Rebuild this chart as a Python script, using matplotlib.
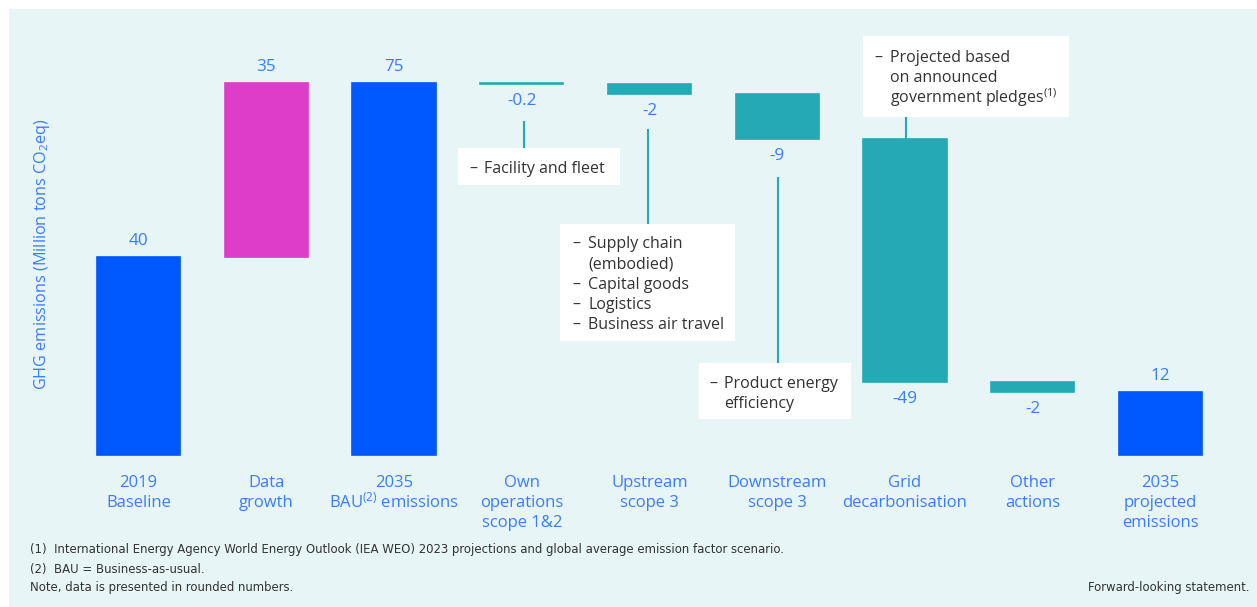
import matplotlib
matplotlib.use("Agg")
import matplotlib.pyplot as plt
from matplotlib.patches import Rectangle

plt.rcParams['font.family'] = ['Open Sans', 'DejaVu Sans']
plt.rcParams['mathtext.default'] = 'regular'

# chart data
categories = ["2019\nBaseline", "Data\ngrowth", "2035\nBAU$^{(2)}$ emissions",
              "Own\noperations\nscope 1&2", "Upstream\nscope 3", "Downstream\nscope 3",
              "Grid\ndecarbonisation", "Other\nactions", "2035\nprojected\nemissions"]
baseline = 40
growth = 35
reductions = [-0.2, -2, -9, -49, -2]
value_labels = ["40", "35", "75", "-0.2", "-2", "-9", "-49", "-2", "12"]

notes = [
    "(1)  International Energy Agency World Energy Outlook (IEA WEO) 2023 projections and global average emission factor scenario.",
    "(2)  BAU = Business-as-usual.",
    "Note, data is presented in rounded numbers.",
]

BLUE = "#0058ff"
PINK = "#dd3dc8"
TEAL = "#23aab5"
LABEL = "#3a7cff"
DARK = "#333333"
BG = "#e7f5f7"

W, H = 1257, 607
fig = plt.figure(figsize=(W / 100, H / 100), dpi=100)
fig.patches.append(Rectangle((9 / W, 0), 1, 1 - 9 / H, transform=fig.transFigure,
                             facecolor=BG, edgecolor="none", zorder=-10))
ax = fig.add_axes([0, 0, 1, 1])
ax.set_facecolor("none")
ax.axis("off")

# pixel layout: bar centres 127.75 px apart, 4.96 px per unit, zero at y=455
ax.set_xlim(-138.5 / 127.75, (W - 138.5) / 127.75)
ax.set_ylim((455 - H) / 4.96, 455 / 4.96)


def fx(p):
    return p / W


def fy(p):
    return 1 - p / H


# build waterfall
bottoms, heights, colors = [], [], []
bottoms.append(0); heights.append(baseline); colors.append(BLUE)
bottoms.append(baseline); heights.append(growth); colors.append(PINK)
total = baseline + growth
bottoms.append(0); heights.append(total); colors.append(BLUE)
level = total
for r in reductions:
    bottoms.append(level + r); heights.append(-r); colors.append(TEAL)
    level += r
bottoms.append(0); heights.append(level); colors.append(BLUE)

xs = list(range(len(categories)))
ax.bar(xs, heights, bottom=bottoms, width=0.65, color=colors,
       edgecolor=colors, linewidth=1.2)

for i, (b, h, lab) in enumerate(zip(bottoms, heights, value_labels)):
    if lab.startswith("-"):
        ax.annotate(lab, (i, b), xytext=(0, -17), textcoords="offset pixels",
                    ha="center", va="center", color=LABEL, fontsize=12.3)
    else:
        ax.annotate(lab, (i, b + h), xytext=(0, 16), textcoords="offset pixels",
                    ha="center", va="center", color=LABEL, fontsize=12.3)

# category labels, one line at a time so spacing stays even
for i, cat in enumerate(categories):
    for k, line in enumerate(cat.split("\n")):
        ax.annotate(line, (i, 0), xytext=(0, -32 - 20 * k), textcoords="offset pixels",
                    ha="center", va="baseline", color=LABEL, fontsize=12)

ax.text(fx(42), fy(254), "GHG emissions (Million tons CO$_2$eq)", rotation=90,
        transform=fig.transFigure, ha="center", va="center", color=LABEL,
        fontsize=11.7)


def note_box(x0, y0, x1, y1, lines, dash_x, text_x, first_y, step=20.3):
    fig.patches.append(Rectangle((fx(x0), fy(y1)), fx(x1 - x0), (y1 - y0) / H,
                                 transform=fig.transFigure, facecolor="white",
                                 edgecolor="none", zorder=1))
    for k, line in enumerate(lines):
        yy = fy(first_y + k * step)
        if line.startswith("- "):
            fig.text(fx(dash_x), yy, "\u2013", ha="left", va="baseline",
                     color=DARK, fontsize=11.5, zorder=3)
            line = line[2:]
        fig.text(fx(text_x), yy, line, ha="left", va="baseline", color=DARK,
                 fontsize=11.5, zorder=3)


def connector(x, y0, y1):
    fig.add_artist(plt.Line2D([fx(x), fx(x)], [fy(y0), fy(y1)], color=TEAL,
                              linewidth=1.5, transform=fig.transFigure, zorder=0))


connector(524, 122, 148)
note_box(458, 148, 620, 185, ["- Facility and fleet"], 469, 484, 173)

connector(648, 130, 224)
note_box(560, 224, 735, 341, ["- Supply chain", "(embodied)", "- Capital goods",
                              "- Logistics", "- Business air travel"], 572, 588, 248)

connector(778, 178, 363)
note_box(699, 363, 851, 419, ["- Product energy", "efficiency"], 709, 724, 388)

connector(906, 117, 138)
note_box(863, 36, 1069, 117, ["- Projected based", "on announced",
                              "government pledges$^{(1)}$"], 874, 890, 62)

for k, n in enumerate(notes):
    fig.text(fx(30), fy(550 + k * 19), n, ha="left", va="center", color=DARK,
             fontsize=9.4, family="DejaVu Sans", fontstretch="condensed")
fig.text(fx(1250), fy(588), "Forward-looking statement.", ha="right", va="center",
         color=DARK, fontsize=9.4, family="DejaVu Sans", fontstretch="condensed")

fig.savefig("out.png", dpi=100)
